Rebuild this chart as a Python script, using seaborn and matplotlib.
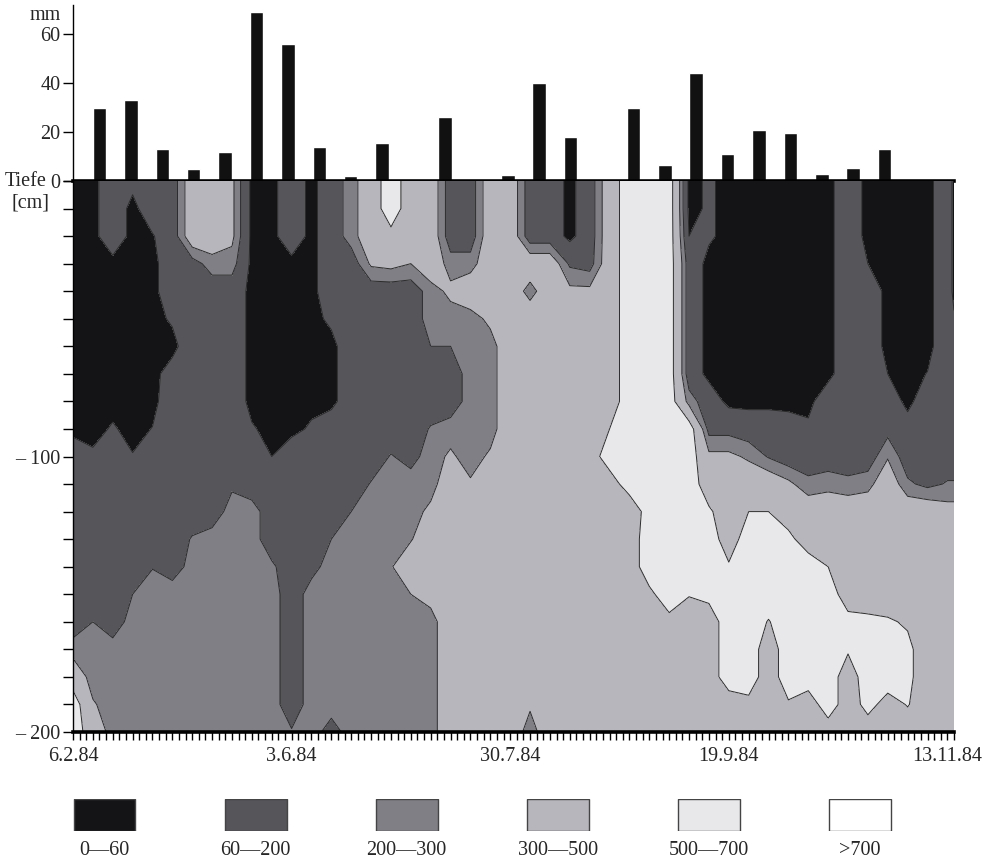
import numpy as np
import pandas as pd
import seaborn as sns
from matplotlib import pyplot as plt
from matplotlib.ticker import MultipleLocator

# precipitation per 10-day period (mm), 6.2.84 - 13.11.84
rain_mm = [30, 33, 13, 5, 12, 69, 56, 14, 2, 15.5, 1, 26, 0.5, 2.5,
           40, 18, 0.5, 30, 6.5, 44, 11, 21, 19.5, 3, 5.5, 13, 0.5, 0.5]

# measurement index of each profile, depth of each reading (cm)
x_idx = [0, 3, 6, 9, 12, 15, 18, 21, 24, 27, 30, 33, 36, 39, 42, 45,
         48, 51, 54, 57, 60, 63, 66, 69, 72, 75, 78, 81, 84, 87, 90, 93,
         96, 99, 102, 105, 108, 111, 114, 117, 120, 123, 126, 129, 132, 133]
depths = list(range(0, -201, -10))

# suction (hPa) per profile, from 0 down to -200 cm
profiles = [
    [30, 30, 30, 30, 30, 30, 30, 30, 30, 30, 130, 130, 130, 130, 130, 130, 130, 250, 400, 600, 600],
    [30, 30, 30, 30, 30, 30, 30, 30, 30, 30, 75, 130, 130, 130, 130, 130, 200, 250, 250, 312, 400],
    [130, 130, 130, 30, 30, 30, 30, 30, 30, 70, 130, 130, 130, 130, 130, 130, 130, 250, 250, 250, 250],
    [90, 30, 30, 30, 30, 30, 30, 30, 30, 30, 65, 130, 130, 130, 130, 200, 250, 250, 250, 250, 250],
    [130, 130, 52, 30, 30, 30, 30, 30, 30, 63, 130, 130, 130, 130, 195, 250, 250, 250, 250, 250, 250],
    [130, 130, 130, 130, 130, 73, 30, 105, 130, 130, 130, 130, 130, 130, 130, 270, 250, 250, 250, 250, 250],
    [400, 400, 400, 150, 130, 130, 130, 130, 130, 130, 130, 130, 130, 210, 250, 250, 250, 250, 250, 250, 250],
    [400, 400, 400, 250, 130, 130, 130, 130, 130, 130, 130, 130, 130, 250, 250, 250, 250, 250, 250, 250, 250],
    [330, 330, 330, 250, 130, 130, 130, 130, 130, 130, 130, 180, 250, 250, 250, 250, 250, 250, 250, 250, 250],
    [30, 30, 30, 30, 30, 30, 30, 30, 30, 70, 130, 130, 250, 250, 250, 250, 250, 250, 250, 250, 250],
    [30, 30, 30, 30, 30, 30, 30, 30, 30, 30, 60, 130, 130, 130, 220, 250, 250, 250, 250, 250, 250],
    [130, 130, 130, 30, 30, 30, 30, 30, 30, 30, 130, 130, 130, 130, 130, 130, 130, 130, 130, 130, 210],
    [30, 30, 30, 30, 30, 30, 30, 30, 30, 75, 130, 130, 130, 130, 160, 250, 250, 250, 250, 250, 250],
    [130, 130, 130, 130, 130, 80, 30, 30, 30, 130, 130, 130, 130, 200, 250, 250, 250, 250, 250, 250, 150],
    [250, 250, 250, 130, 130, 130, 130, 130, 130, 130, 130, 130, 200, 250, 250, 250, 250, 250, 250, 250, 250],
    [400, 400, 400, 320, 130, 130, 130, 130, 130, 130, 130, 208, 250, 250, 250, 250, 250, 250, 250, 250, 250],
    [600, 600, 450, 340, 130, 130, 130, 130, 130, 130, 208, 250, 250, 250, 290, 290, 250, 250, 250, 250, 250],
    [400, 400, 400, 300, 130, 130, 130, 130, 130, 130, 160, 250, 250, 290, 400, 300, 250, 250, 250, 250, 250],
    [400, 400, 400, 400, 250, 250, 200, 130, 130, 210, 250, 250, 330, 400, 400, 350, 250, 250, 250, 250, 250],
    [130, 130, 130, 250, 330, 250, 200, 130, 130, 250, 320, 400, 400, 400, 400, 400, 400, 400, 400, 400, 400],
    [130, 130, 130, 250, 400, 250, 250, 250, 250, 250, 250, 315, 400, 400, 400, 400, 400, 400, 400, 400, 400],
    [400, 400, 400, 400, 400, 330, 250, 250, 250, 250, 320, 400, 400, 400, 400, 400, 400, 400, 400, 400, 400],
    [400, 400, 400, 400, 400, 400, 400, 400, 400, 400, 400, 400, 400, 400, 400, 400, 400, 400, 400, 400, 400],
    [130, 130, 130, 400, 250, 400, 400, 400, 400, 400, 400, 400, 400, 400, 400, 400, 400, 400, 400, 320, 240],
    [130, 130, 130, 400, 400, 400, 400, 400, 400, 400, 400, 400, 400, 400, 400, 400, 400, 400, 400, 400, 400],
    [30, 30, 30, 180, 330, 400, 400, 400, 400, 400, 400, 400, 400, 400, 400, 400, 400, 400, 400, 400, 400],
    [130, 130, 130, 150, 330, 400, 400, 400, 400, 400, 400, 400, 400, 400, 400, 400, 400, 400, 400, 400, 400],
    [400, 400, 400, 400, 400, 400, 400, 400, 400, 500, 600, 400, 400, 400, 400, 400, 400, 400, 400, 400, 400],
    [600, 600, 600, 600, 600, 600, 600, 600, 600, 600, 600, 600, 350, 400, 400, 400, 400, 400, 400, 400, 400],
    [600, 600, 600, 600, 600, 600, 600, 600, 600, 600, 600, 600, 600, 600, 600, 460, 400, 400, 400, 400, 400],
    [600, 600, 600, 600, 600, 600, 600, 600, 600, 600, 600, 600, 600, 600, 600, 600, 450, 400, 400, 400, 400],
    [30, 30, 60, 130, 130, 130, 130, 130, 250, 600, 600, 600, 600, 600, 600, 510, 400, 400, 400, 400, 400],
    [75, 75, 75, 30, 30, 30, 30, 30, 130, 160, 330, 400, 525, 600, 600, 550, 400, 400, 400, 400, 400],
    [30, 30, 30, 30, 30, 30, 30, 30, 30, 160, 330, 400, 400, 400, 520, 600, 600, 600, 600, 400, 400],
    [30, 30, 30, 30, 30, 30, 30, 30, 30, 130, 280, 400, 500, 600, 600, 600, 600, 600, 600, 450, 400],
    [30, 30, 30, 30, 30, 30, 30, 30, 30, 130, 190, 400, 500, 600, 600, 600, 490, 400, 400, 400, 400],
    [30, 30, 30, 30, 30, 30, 30, 30, 30, 110, 130, 330, 400, 550, 600, 600, 600, 600, 600, 480, 400],
    [30, 30, 30, 30, 30, 30, 30, 30, 30, 80, 130, 230, 400, 400, 600, 600, 600, 600, 600, 400, 400],
    [30, 30, 30, 30, 30, 30, 30, 30, 130, 130, 130, 260, 400, 400, 500, 600, 600, 600, 600, 600, 400],
    [130, 130, 130, 130, 130, 130, 130, 130, 130, 130, 130, 230, 400, 400, 400, 400, 560, 520, 400, 400, 400],
    [30, 30, 30, 60, 130, 130, 130, 130, 130, 130, 130, 260, 400, 400, 400, 400, 540, 600, 600, 560, 400],
    [30, 30, 30, 30, 30, 30, 30, 60, 130, 160, 290, 400, 400, 400, 400, 400, 520, 600, 600, 430, 400],
    [30, 30, 30, 30, 30, 30, 30, 30, 30, 110, 130, 220, 400, 400, 400, 400, 480, 540, 540, 510, 400],
    [30, 30, 30, 30, 30, 30, 30, 63, 130, 130, 130, 170, 400, 400, 400, 400, 400, 400, 400, 400, 400],
    [130, 130, 130, 130, 130, 130, 130, 130, 130, 130, 130, 210, 350, 400, 400, 400, 400, 400, 400, 400, 400],
    [30, 30, 30, 30, 30, 73, 130, 130, 130, 130, 130, 210, 350, 400, 400, 400, 400, 400, 400, 400, 400],
]

date_pos = [0, 33, 66, 99, 132]
date_labels = ["6.2.84", "3.6.84", "30.7.84", "19.9.84", "13.11.84"]

levels = [0, 60, 200, 300, 500, 700, 1000]
class_labels = ["0\u201460", "60\u2014200", "200\u2014300", "300\u2014500", "500\u2014700", ">700"]
class_colors = ["#141416", "#55555a", "#7f7f85", "#b6b6bc", "#e8e8eb", "#ffffff"]

sns.set_theme(style="white")
plt.rcParams["font.family"] = ["Liberation Serif", "DejaVu Serif"]
FS = 14.5

W, H = 989, 861
fig = plt.figure(figsize=(W / 100, H / 100), dpi=100)


def px_axes(x0, y0, x1, y1):
    # pixel box (top-left origin) -> figure axes
    return fig.add_axes([x0 / W, 1 - y1 / H, (x1 - x0) / W, (y1 - y0) / H])


ax_rain = px_axes(73, 5, 954, 181)
ax_soil = px_axes(73, 181, 954, 732)
ax_leg = px_axes(50, 799, 950, 831)

# precipitation bars
df_rain = pd.DataFrame({"dekade": range(len(rain_mm)), "mm": rain_mm})
sns.barplot(data=df_rain, x="dekade", y="mm", color="#111111", saturation=1,
            width=0.43, errorbar=None, ax=ax_rain)
ax_rain.set_xlim(-0.844, 27.21)
ax_rain.set_ylim(0, 72)
ax_rain.set_xticks([])
ax_rain.set_xlabel("")
ax_rain.set_ylabel("")
ax_rain.set_yticks([0, 20, 40, 60])
ax_rain.tick_params(axis="y", left=True, direction="out", length=7, width=1,
                    pad=2, labelsize=FS, color="black")
for s in ["top", "right"]:
    ax_rain.spines[s].set_visible(False)
ax_rain.spines["left"].set_linewidth(1)
ax_rain.spines["left"].set_color("black")
ax_rain.spines["bottom"].set_linewidth(2.6)
ax_rain.spines["bottom"].set_color("black")

# soil suction isolines
Z = np.array(profiles).T
X, Y = np.meshgrid(x_idx, depths)
ax_soil.contourf(X, Y, Z, levels=levels, colors=class_colors)
ax_soil.contour(X, Y, Z, levels=levels[1:-1], colors="#2b2b2b", linewidths=0.7)
ax_soil.set_xlim(0, 133)
ax_soil.set_ylim(-200, 0)
ax_soil.set_xticks(date_pos, date_labels)
ax_soil.xaxis.set_minor_locator(MultipleLocator(1))
ax_soil.set_yticks([-100, -200], ["\u2013 100", "\u2013 200"])
ax_soil.yaxis.set_minor_locator(MultipleLocator(10))
ax_soil.tick_params(axis="x", which="both", bottom=True, direction="out",
                    length=6, width=1, pad=5, labelsize=FS, color="black")
ax_soil.tick_params(axis="y", which="both", left=True, direction="out",
                    length=7, width=1, pad=2, labelsize=FS, color="black")
for s in ["top", "right"]:
    ax_soil.spines[s].set_visible(False)
ax_soil.spines["left"].set_linewidth(1)
ax_soil.spines["left"].set_color("black")
ax_soil.spines["bottom"].set_linewidth(2.6)
ax_soil.spines["bottom"].set_color("black")

fig.text(61 / W, 1 - 16 / H, "mm", ha="right", va="center", fontsize=FS)
fig.text(47 / W, 1 - 181 / H, "Tiefe", ha="right", va="center", fontsize=FS)
fig.text(31 / W, 1 - 203 / H, "[cm]", ha="center", va="center", fontsize=FS)

# class legend
df_leg = pd.DataFrame({"klasse": class_labels, "h": [1] * len(class_labels)})
sns.barplot(data=df_leg, x="klasse", y="h", hue="klasse", palette=class_colors,
            saturation=1, width=0.41, errorbar=None, legend=False,
            edgecolor="#444444", linewidth=1, ax=ax_leg)
ax_leg.set_xlim(-0.3607, 5.5956)
ax_leg.set_ylim(0, 1)
ax_leg.set_yticks([])
ax_leg.set_xlabel("")
ax_leg.set_ylabel("")
ax_leg.tick_params(axis="x", length=0, pad=7, labelsize=FS)
for s in ax_leg.spines.values():
    s.set_visible(False)

fig.savefig("out.png", dpi=100)
